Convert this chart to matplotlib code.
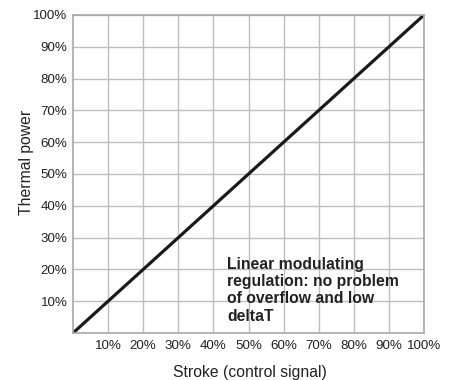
import matplotlib
matplotlib.use("Agg")
import matplotlib.pyplot as plt

plt.rcParams['font.family'] = ['Liberation Sans', 'DejaVu Sans']

stroke = [0, 100]
power = [0, 100]
xticks = [10, 20, 30, 40, 50, 60, 70, 80, 90, 100]
yticks = [10, 20, 30, 40, 50, 60, 70, 80, 90, 100]
xlabels = [f"{v}%" for v in xticks]
ylabels = [f"{v}%" for v in yticks]
note = "Linear modulating\nregulation: no problem\nof overflow and low\ndeltaT"

W, H = 457, 380
fig = plt.figure(figsize=(W/100, H/100), dpi=100)
ax = fig.add_axes([73/W, 1 - 333/H, (424-73)/W, (333-15)/H])
ax.set_xlim(0, 100)
ax.set_ylim(0, 100)
ax.set_xticks(xticks)
ax.set_yticks(yticks)
ax.set_xticklabels(xlabels, fontsize=9.6, color='#222222')
ax.set_yticklabels(ylabels, fontsize=9.6, color='#222222')
ax.tick_params(axis='x', length=0, pad=5)
ax.tick_params(axis='y', length=0, pad=4)
ax.grid(True, color='#bdbdbd', linewidth=1.0)
ax.set_axisbelow(True)
for s in ax.spines.values():
    s.set_color('#a8a8a8')
    s.set_linewidth(1.2)
ax.plot(stroke, power, color='#1a1a1a', linewidth=2.3, solid_capstyle='butt')
ax.text(44, 24, note, fontsize=11.3, fontweight='bold', color='#222222',
        va='top', ha='left', linespacing=1.2)
fig.text(250/W, 1 - 373/H, "Stroke (control signal)", fontsize=11.3, color='#222222',
         ha='center', va='center')
fig.text(26/W, 1 - 162/H, "Thermal power", fontsize=11.3, color='#222222',
         ha='center', va='center', rotation=90)
fig.savefig("out.png", dpi=100)
